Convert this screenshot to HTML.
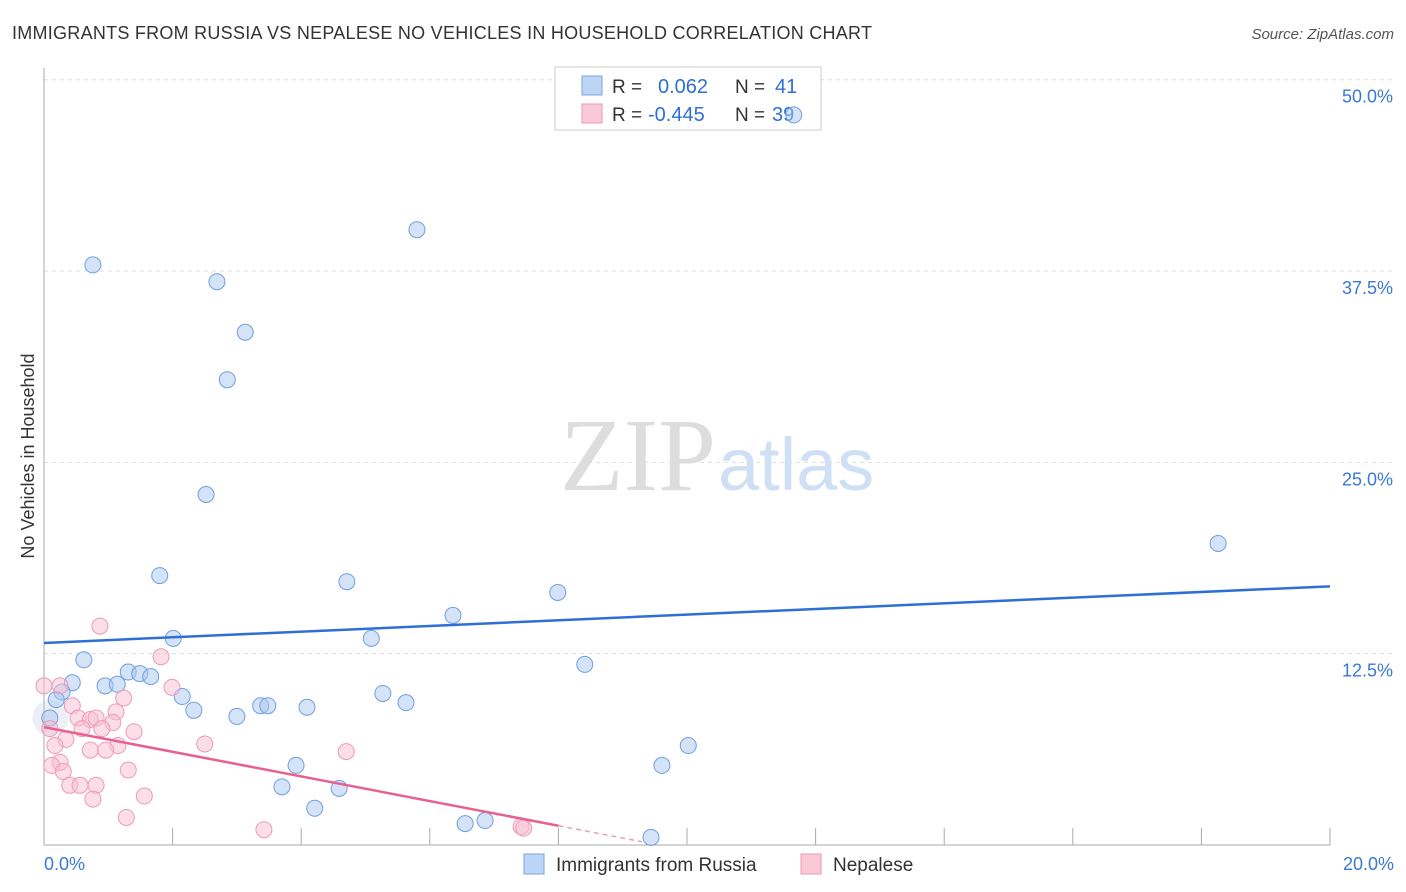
<!DOCTYPE html>
<html><head><meta charset="utf-8"><style>
body{margin:0;background:#fff;font-family:"Liberation Sans",sans-serif;}
svg{display:block}
</style></head><body>
<svg id="chart" width="1406" height="892">
<text x="12" y="39" font-size="18" fill="#333" textLength="860">IMMIGRANTS FROM RUSSIA VS NEPALESE NO VEHICLES IN HOUSEHOLD CORRELATION CHART</text>
<text x="1394" y="39" font-size="15" fill="#555" font-style="italic" text-anchor="end">Source: ZipAtlas.com</text>
<text x="716" y="490" font-size="104" fill="#ddd" text-anchor="end" font-family="Liberation Serif,serif">ZIP</text>
<text x="718" y="490" font-size="74" fill="#cfe0f5">atlas</text>
<text transform="translate(34,456) rotate(-90)" font-size="18" fill="#333" text-anchor="middle">No Vehicles in Household</text>
<g id="grid"></g>
<g>
<rect x="555" y="67" width="266" height="63" fill="#fff" stroke="#ccc"/>
<rect x="582" y="76" width="20" height="19" fill="#bcd5f5" stroke="#7aa6e0"/>
<rect x="582" y="104" width="20" height="19" fill="#f9c9d8" stroke="#ec9ab4"/>
<text x="612" y="93" font-size="19" fill="#333">R =</text><text x="658" y="93" font-size="20" fill="#2d6fd6">0.062</text>
<text x="735" y="93" font-size="19" fill="#333">N =</text><text x="775" y="93" font-size="20" fill="#2d6fd6">41</text>
<text x="612" y="121" font-size="19" fill="#333">R =</text><text x="648" y="121" font-size="20" fill="#2d6fd6">-0.445</text>
<text x="735" y="121" font-size="19" fill="#333">N =</text><text x="772" y="121" font-size="20" fill="#2d6fd6">39</text>
</g>
<g id="marks"></g>
<g>
<rect x="524" y="854" width="20" height="20" fill="#bcd5f5" stroke="#7aa6e0"/>
<text x="556" y="871" font-size="19" fill="#333">Immigrants from Russia</text>
<rect x="801" y="854" width="20" height="20" fill="#f9c9d8" stroke="#ec9ab4"/>
<text x="833" y="871" font-size="19" fill="#333">Nepalese</text>
</g>
</svg>
<script>
const yTicks=[12.5,25,37.5,50];
const yTickLabels=["12.5%","25.0%","37.5%","50.0%"];
const blueX=[0.76,2.69,5.80,3.13,2.85,11.66,2.52,18.26,1.80,4.71,7.99,6.36,2.01,5.09,0.62,8.41,1.31,1.49,1.66,0.44,0.95,1.14,0.28,0.19,5.27,2.15,5.63,3.37,3.48,4.09,2.33,3.00,0.09,10.02,3.92,9.61,3.70,4.59,4.21,6.55,6.86,9.44];
const blueY=[37.9,36.8,40.2,33.5,30.4,47.7,22.9,19.7,17.6,17.2,16.5,15.0,13.5,13.5,12.1,11.8,11.3,11.2,11.0,10.6,10.4,10.5,10.0,9.5,9.9,9.7,9.3,9.1,9.1,9.0,8.8,8.4,8.3,6.5,5.2,5.2,3.8,3.7,2.4,1.4,1.6,0.5];
const pinkX=[0.87,1.82,0,0.25,1.99,1.24,0.44,1.12,0.53,0.72,0.81,1.07,0.09,0.59,0.90,1.40,0.34,0.17,1.15,2.50,0.72,0.96,4.70,0.25,0.12,0.30,1.31,0.40,0.56,0.81,1.56,0.76,1.28,3.42,7.42,7.46];
const pinkY=[14.3,12.3,10.4,10.4,10.3,9.6,9.1,8.7,8.3,8.2,8.3,8.0,7.6,7.6,7.6,7.4,6.9,6.5,6.5,6.6,6.2,6.2,6.1,5.4,5.2,4.8,4.9,3.9,3.9,3.9,3.2,3.0,1.8,1.0,1.2,1.1];
const blueTrend=[13.2,16.9]; // y at x=0 and x=20
const pinkTrend=[7.7,-0.805]; // intercept, slope
const X=v=>44+v/20*1286, Y=v=>845-v/50*765.3;
const NS="http://www.w3.org/2000/svg";
const g=document.getElementById('grid'),m=document.getElementById('marks');
function el(t,a,p){const e=document.createElementNS(NS,t);for(const k in a)e.setAttribute(k,a[k]);p.appendChild(e);return e;}
yTicks.forEach((t,i)=>{
 const l=el('line',{x1:44,x2:1395,y1:Y(t),y2:Y(t),stroke:'#ddd','stroke-dasharray':'4,4'},g);
 
 
 const tx=el('text',{x:1393,y:Y(t)+23,'font-size':18,fill:'#3a78d6','text-anchor':'end'},g);
 tx.textContent=yTickLabels[i];
 
 
});
el('line',{x1:44,x2:44,y1:68,y2:845,stroke:'#aaa'},g);
el('line',{x1:44,x2:1330,y1:845,y2:845,stroke:'#aaa'},g);
for(let i=1;i<=10;i++){const l=el('line',{x1:X(i*2),x2:X(i*2),y1:828,y2:845,stroke:'#aaa'},g);
 
 }
const x0=el('text',{x:44,y:870,'font-size':18,fill:'#3a78d6'},g);x0.textContent='0.0%';


const x1=el('text',{x:1394,y:870,'font-size':18,fill:'#3a78d6','text-anchor':'end'},g);x1.textContent='20.0%';


const big=el('circle',{cx:X(0.1),cy:Y(8.3),r:18,fill:'rgba(200,210,230,0.35)'},m);


blueX.forEach((x,i)=>{const c=el('circle',{cx:X(x),cy:Y(blueY[i]),r:8,fill:'rgba(170,200,240,0.5)',stroke:'#6f9fe0','stroke-width':1},m);
 
 });
pinkX.forEach((x,i)=>{const c=el('circle',{cx:X(x),cy:Y(pinkY[i]),r:8,fill:'rgba(248,190,210,0.5)',stroke:'#ee9ab5','stroke-width':1},m);
 
 });
const bl=el('line',{x1:X(0),y1:Y(blueTrend[0]),x2:X(20),y2:Y(blueTrend[1]),stroke:'#2d6fd6','stroke-width':2.5},m);


const pl=el('line',{x1:X(0),y1:Y(pinkTrend[0]),x2:X(8),y2:Y(pinkTrend[0]+pinkTrend[1]*8),stroke:'#e8608e','stroke-width':2.5},m);


const pd=el('line',{x1:X(8),y1:Y(pinkTrend[0]+pinkTrend[1]*8),x2:X(9.3),y2:Y(pinkTrend[0]+pinkTrend[1]*9.3),stroke:'#e8a0b8','stroke-width':1.5,'stroke-dasharray':'5,4'},m);


</script>
</body></html>
